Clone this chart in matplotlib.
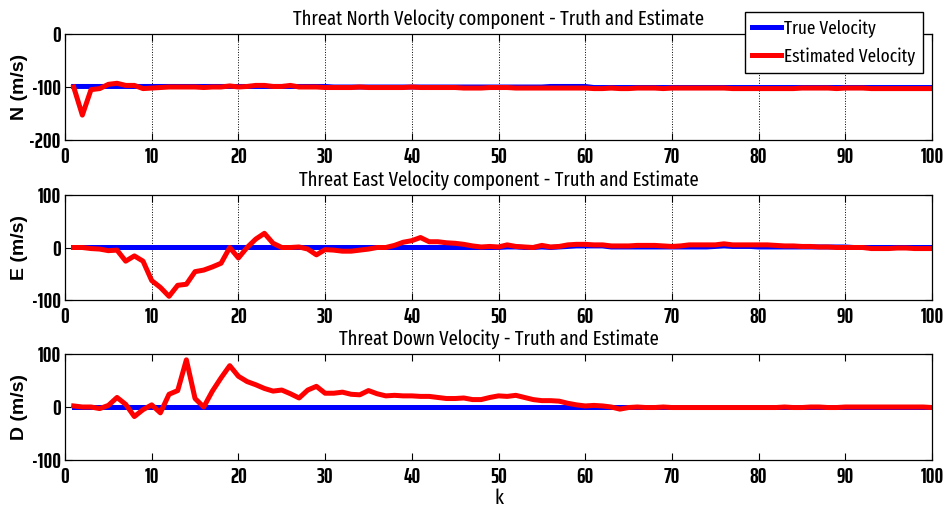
import numpy as np
import matplotlib
matplotlib.use("Agg")
import matplotlib.pyplot as plt
from matplotlib.lines import Line2D

plt.rcParams['font.family'] = ['Fira Sans Extra Condensed', 'Roboto Condensed', 'DejaVu Sans']
plt.rcParams['axes.unicode_minus'] = False
TICKFONT = ['Saira ExtraCondensed', 'Roboto Condensed', 'DejaVu Sans']

k = list(range(1, 101))

north_est = [-100, -153, -105, -103, -95, -93, -97, -97, -103, -102,
             -101, -100, -100, -100, -100, -101, -100, -100, -98, -100,
             -99, -97, -97, -99, -99, -97, -100, -100, -100, -101,
             -101, -101, -101, -100, -101, -101, -101, -101, -101, -100,
             -101, -101, -101, -101, -101, -102, -102, -102, -101, -101,
             -101, -102, -102, -102, -102, -102, -102, -102, -102, -102,
             -103, -103, -102, -103, -103, -102, -102, -102, -103, -102,
             -102, -102, -102, -102, -102, -102, -103, -103, -103, -103,
             -103, -103, -103, -103, -102, -102, -102, -102, -103, -102,
             -102, -102, -103, -103, -103, -103, -103, -103, -103, -103]
north_true = [-99] * 30 + [-100] * 25 + [-99] * 5 + [-101] * 40

east_est = [0, 0, -2, -3, -6, -5, -26, -16, -26, -63,
            -76, -93, -72, -70, -46, -43, -37, -30, 0, -20,
            0, 16, 27, 8, 0, 0, 1, -3, -14, -4,
            -5, -7, -7, -5, -3, 0, 0, 4, 10, 13,
            19, 11, 11, 9, 8, 6, 3, 1, 2, 1,
            5, 2, 1, 0, 4, 1, 2, 5, 6, 6,
            5, 5, 3, 3, 3, 4, 4, 4, 3, 2,
            3, 5, 5, 5, 5, 7, 5, 5, 5, 5,
            5, 4, 3, 3, 2, 2, 1, 1, 0, 0,
            0, 0, -2, -2, -2, -1, -1, -2, -2, -2]
east_true = [0] * 50 + [1, 1, 0, 0, 1, 0, 1, 2, 3, 3,
                        3, 3, 1, 1, 1, 1, 1, 1, 1, 1,
                        1, 1, 1, 1, 2, 3, 2, 2, 2, 1,
                        1, 1, 1, 1, 1, 1, 1, 1, 1, 1,
                        0, 0, 0, 0, 0, 0, 0, 0, 0, 0]

down_est = [2, 0, 0, -3, 3, 18, 5, -18, -5, 4,
            -11, 24, 31, 89, 16, 0, 30, 55, 78, 58,
            48, 42, 35, 30, 32, 25, 17, 32, 39, 26,
            26, 28, 24, 23, 31, 25, 21, 22, 21, 21,
            20, 20, 18, 16, 16, 17, 14, 14, 18, 21,
            20, 22, 18, 14, 12, 12, 11, 7, 4, 2,
            3, 2, 0, -4, -1, 0, -1, -1, 0, -1,
            -1, -1, -1, -1, -1, -1, -1, -1, -1, -1,
            -1, -1, 0, -1, -1, 0, 0, -1, -1, 0,
            0, 0, 0, 0, 0, 0, 0, 0, 0, -1]
down_true = [0] * 100

titles = ["Threat North Velocity component - Truth and Estimate",
          "Threat East Velocity component - Truth and Estimate",
          "Threat Down Velocity - Truth and Estimate"]
ylabels = ["N (m/s)", "E (m/s)", "D (m/s)"]
ylims = [(-200, 0), (-100, 100), (-100, 100)]
yticks = [[-200, -100, 0], [-100, 0, 100], [-100, 0, 100]]
xticks = list(range(0, 101, 10))

fig = plt.figure(figsize=(9.49, 5.11), dpi=100)
W, H = 949, 511
boxes = [(34, 140), (195, 300), (354, 460)]
left, right = 65, 932

trues = [north_true, east_true, down_true]
ests = [north_est, east_est, down_est]
grids = [True, True, False]

for i, (top, bot) in enumerate(boxes):
    ax = fig.add_axes([left / W, 1 - bot / H, (right - left) / W, (bot - top) / H])
    ax.plot(k, trues[i], color='#0000ff', lw=3.6)
    ax.plot(k, ests[i], color='#ff0000', lw=3.6)
    ax.set_xlim(0, 100)
    ax.set_ylim(*ylims[i])
    ax.set_xticks(xticks)
    ax.set_yticks(yticks[i])
    ax.tick_params(direction='in', top=True, right=True, length=5, width=0.8)
    ax.tick_params(axis='x', pad=5)
    ax.tick_params(axis='y', pad=3)
    for lab in ax.get_xticklabels() + ax.get_yticklabels():
        lab.set_fontweight('bold')
        lab.set_fontfamily(TICKFONT)
        lab.set_fontsize(15.5)
    if grids[i]:
        ax.grid(axis='x', linestyle=':', color='black', lw=0.7)
    ax.set_title(titles[i], fontsize=14.5, fontweight='normal', pad=7)
    ax.set_ylabel(ylabels[i], fontsize=14, fontweight='bold',
                  family=['Liberation Sans', 'DejaVu Sans'])
    ax.yaxis.set_label_coords(-37 / (right - left), 0.5)
    for s in ax.spines.values():
        s.set_linewidth(0.9)
    if i == 2:
        ax.set_xlabel("k", fontsize=15, fontweight='normal', labelpad=1)

handles = [Line2D([], [], color='#0000ff', lw=3.6), Line2D([], [], color='#ff0000', lw=3.6)]
fig.legend(handles, ["True Velocity", "Estimated Velocity"],
           loc='upper right', bbox_to_anchor=(923 / W, 1 - 12 / H),
           prop={'size': 13.5, 'weight': 'normal'},
           frameon=True, fancybox=False, edgecolor='black',
           framealpha=1, handlelength=1.5, handletextpad=0.2, borderpad=0.4,
           labelspacing=0.5, borderaxespad=0)

fig.savefig("out.png", dpi=100)
